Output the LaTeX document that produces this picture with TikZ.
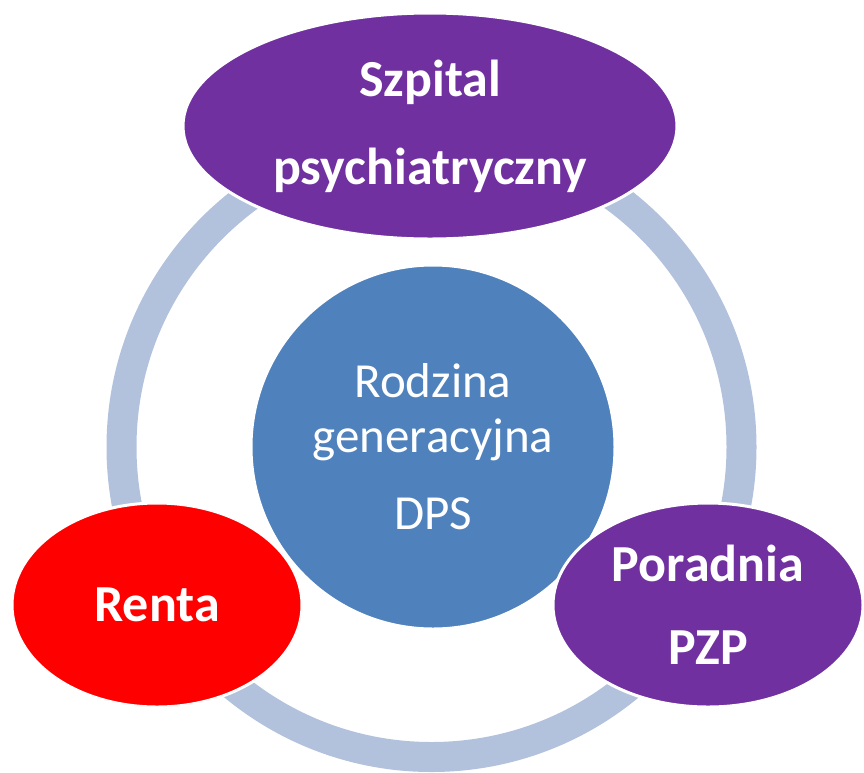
\documentclass[tikz,border=0pt]{standalone}
\usepackage{fontspec}
\setmainfont{Carlito}
\usetikzlibrary{shapes.geometric}
\definecolor{ringc}{HTML}{B2C2DC}
\definecolor{bluec}{HTML}{4F81BD}
\definecolor{purplec}{HTML}{7030A0}
\definecolor{redc}{HTML}{FF0000}
\tikzset{
  blob/.style={ellipse, draw=white, line width=3pt, inner sep=0pt, text=white, align=center,
    font=\bfseries\fontsize{52}{88}\selectfont},
}
\begin{document}
\begin{tikzpicture}[x=1pt,y=-1pt]
\useasboundingbox (0,0) rectangle (864,772);
\draw[ringc, line width=30pt] (431.5,447) circle (310pt);
\node[circle, fill=bluec, draw=white, line width=3pt, minimum size=364pt, inner sep=0pt,
  text=white, align=center, font=\fontsize{49}{55}\selectfont] (c) at (433,447)
  {Rodzina\\generacyjna\\[22pt]DPS};
\node[blob, fill=purplec, minimum width=494pt, minimum height=226pt] (s) at (430,126)
  {Szpital\\psychiatryczny};
\node[blob, fill=redc, minimum width=290pt, minimum height=204pt] (r) at (157,605) {Renta};
\node[blob, fill=purplec, minimum width=310pt, minimum height=204pt,
  font=\bfseries\fontsize{52}{83}\selectfont] (p) at (708,605) {Poradnia\\PZP};
\end{tikzpicture}
\end{document}
